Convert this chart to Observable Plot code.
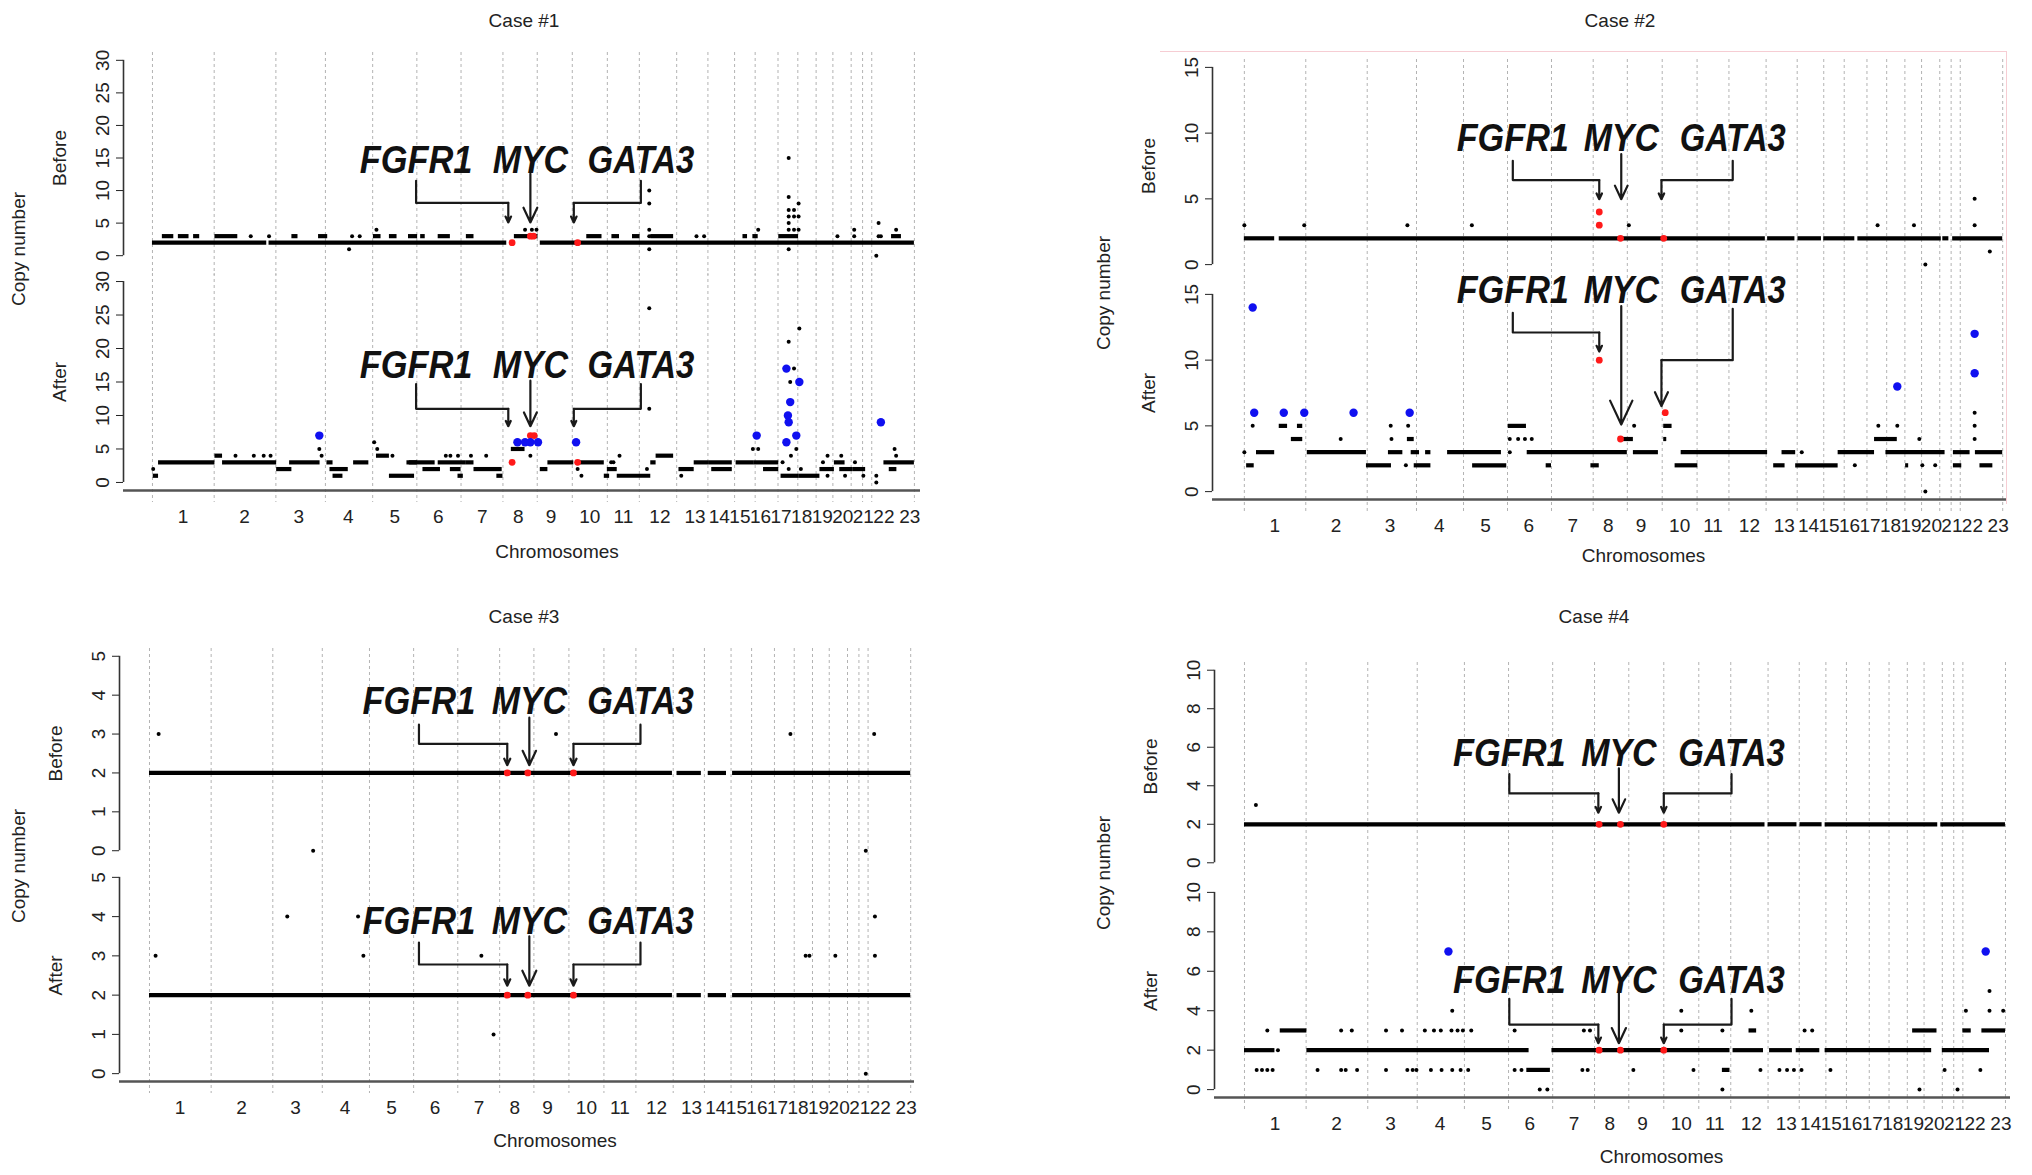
<!DOCTYPE html>
<html><head><meta charset="utf-8">
<script src="https://cdn.jsdelivr.net/npm/d3@7"></script>
<script src="https://cdn.jsdelivr.net/npm/@observablehq/plot@0.6"></script>
<style>
body{margin:0;background:#fff;}
#page{position:relative;width:2032px;height:1175px;overflow:hidden;font-family:'Liberation Sans',Arial,sans-serif;color:#222;}
.abs{position:absolute;}
.title{position:absolute;font-size:19px;transform:translate(-50%,-50%);white-space:nowrap;}
.ylab{position:absolute;font-size:19px;transform:translate(-50%,-50%) rotate(-90deg);white-space:nowrap;}
.pink{position:absolute;border-top:1.5px solid #f6cdd3;border-right:1.5px solid #f6cdd3;}
</style></head><body><div id="page"></div>
<script>
// ---------- shared genome axis (position along genome, 0..1000) ----------
const chromBounds = [0, 81, 162, 227, 289, 347, 405, 460, 505, 551, 597, 639, 688, 729, 764, 791, 821, 847, 871, 893, 917, 932, 944, 1000];
const chromLabelPos = [40, 121, 192, 257, 318, 375, 433, 480, 523, 574, 618, 666, 712, 744, 771, 798, 825, 852, 879, 906, 933, 960, 994];
const chromLabels = ["1","2","3","4","5","6","7","8","9","10","11","12","13","14","15","16","17","18","19","20","21","22","23"];
const caseTitles = ["Case #1", "Case #2", "Case #3", "Case #4"];
const genes = ["FGFR1", "MYC", "GATA3"];
const geneLabelWidth = [148, 99, 140];   // width of each gene word, in genome units

// ---------- Case 1 ----------
const c1YTicks = [0, 5, 10, 15, 20, 25, 30];
const c1BeforeRuns = [[0,150,2],[153,465,2],[509,1000,2],
 [13,28,3],[34,48,3],[54,62,3],[82,112,3],[183,191,3],[218,230,3],[290,300,3],[311,321,3],[336,348,3],[352,358,3],[375,391,3],[412,422,3],[475,506,3],[570,590,3],[603,613,3],[630,640,3],[654,684,3],[775,781,3],[788,795,3],[822,848,3],[970,983,3]];
const c1BeforePoints = [[129,3],[153,3],[262,3],[272,3],[714,3],[724,3],[899,3],[921,3],[953,3],[956,3],[294,4],[489,4],[498,4],[504,4],[795,4],[835,4],[842,4],[848,4],[921,4],[976,4],[258,1],[652,1],[835,1],[950,0],[652,10],[652,8],[652,4],[652,3],[835,15],[835,9],[835,7],[842,7],[835,6],[842,6],[848,8],[848,6],[835,5],[953,5]];
const c1BeforeRed = [[472,2],[496,3],[500,3],[558,2]];
const c1BeforeBlue = [];
const c1AfterRuns = [[1,8,1],[8,82,3],[82,92,4],[92,163,3],[163,183,2],[180,220,3],[229,237,3],[233,257,2],[237,250,1],[264,284,3],[294,311,4],[311,344,1],[334,348,3],[337,371,3],[355,378,2],[375,412,3],[391,405,2],[401,408,1],[412,422,3],[422,459,2],[452,460,1],[471,489,5],[509,519,2],[519,553,3],[560,593,3],[593,600,1],[597,610,2],[610,654,1],[654,661,3],[661,684,4],[691,711,2],[711,731,3],[731,761,3],[734,761,2],[766,790,3],[790,822,3],[802,822,2],[825,849,1],[849,876,1],[876,895,2],[895,909,3],[902,919,2],[919,936,2],[960,1000,3],[967,977,2]];
const c1AfterPoints = [[1,2],[109,4],[133,4],[146,4],[155,4],[219,5],[222,4],[291,6],[295,5],[315,4],[385,4],[391,4],[401,4],[418,4],[438,4],[496,4],[558,2],[563,1],[613,4],[602,3],[605,3],[652,26],[652,11],[649,2],[694,1],[788,5],[795,5],[835,21],[849,23],[842,17],[837,15],[845,5],[838,4],[827,3],[835,2],[851,2],[886,4],[880,3],[886,1],[904,4],[909,1],[922,3],[933,1],[950,0],[950,1],[976,4],[974,5]];
const c1AfterBlue = [[219,7],[479,6],[489,6],[496,6],[506,6],[556,6],[793,7],[832,17],[837,12],[834,10],[835,9],[832,6],[849,15],[845,7],[956,9]];
const c1AfterRed = [[472,3],[496,7],[501,7],[558,3]];
const c1LabelX = [346, 496, 641];
const c1TipX = [467, 496, 553];
const c1BeforeLabelY = 14.6;
const c1BeforeArrowY = [[11.5,8.1,5.1],[12.6,12.6,5.1],[11.5,8.1,5.1]];
const c1AfterLabelY = 17.4;
const c1AfterArrowY = [[14.7,11.0,8.4],[15.2,15.2,8.4],[14.7,11.0,8.4]];

// ---------- Case 2 ----------
const c2YTicks = [0, 5, 10, 15];
const c2BeforeRuns = [[0,40,2],[46,687,2],[690,726,2],[730,761,2],[764,805,2],[809,919,2],[921,929,2],[934,1000,2]];
const c2BeforePoints = [[0,3],[79,3],[215,3],[300,3],[507,3],[835,3],[883,3],[963,3],[963,5],[898,0],[983,1]];
const c2BeforeRed = [[468,4],[468,3],[496,2],[553,2]];
const c2BeforeBlue = [];
const c2AfterRuns = [[16,40,3],[83,161,3],[190,209,3],[220,231,3],[239,246,3],[268,339,3],[373,505,3],[513,546,3],[576,690,3],[709,727,3],[783,831,3],[846,924,3],[935,957,3],[964,1000,3],
 [3,13,2],[161,194,2],[224,246,2],[301,346,2],[398,405,2],[457,468,2],[568,598,2],[698,713,2],[727,783,2],[872,876,2],[935,946,2],[970,987,2],
 [62,77,4],[215,224,4],[498,513,4],[553,557,4],[831,861,4],
 [46,57,5],[70,77,5],[348,372,5],[553,564,5]];
const c2AfterPoints = [[0,3],[350,3],[735,3],[11,5],[127,4],[194,4],[193,5],[216,5],[213,2],[350,4],[361,4],[370,4],[379,4],[514,5],[836,5],[861,5],[890,4],[805,2],[894,2],[911,2],[963,4],[963,5],[963,6],[898,0]];
const c2AfterBlue = [[11,14],[13,6],[52,6],[79,6],[144,6],[218,6],[861,8],[963,12],[963,9]];
const c2AfterRed = [[468,10],[496,4],[555,6]];
const c2LabelX = [354, 497, 644];
const c2TipX = [468, 497, 550];
const c2BeforeLabelY = 9.6;
const c2BeforeArrowY = [[7.9,6.43,4.97],[8.4,8.4,4.97],[7.9,6.43,4.97]];
const c2AfterLabelY = 15.3;
const c2AfterArrowY = [[13.6,12.1,10.65],[14.1,14.1,5.1],[13.9,10.0,6.5]];

// ---------- Case 3 ----------
const c3YTicks = [0, 1, 2, 3, 4, 5];
const c3BeforeRuns = [[0,687,2],[693,725,2],[734,758,2],[766,1000,2]];
const c3BeforePoints = [[12,3],[534,3],[842,3],[952,3],[215,0],[941,0]];
const c3BeforeRed = [[470,2],[497,2],[557,2]];
const c3BeforeBlue = [];
const c3AfterRuns = [[0,687,2],[693,725,2],[734,758,2],[766,1000,2]];
const c3AfterPoints = [[181,4],[274,4],[953,4],[8,3],[281,3],[436,3],[862,3],[867,3],[901,3],[953,3],[452,1],[941,0]];
const c3AfterRed = [[470,2],[497,2],[557,2]];
const c3AfterBlue = [];
const c3LabelX = [354, 499, 645];
const c3TipX = [470, 499, 557];
const c3BeforeLabelY = 3.83;
const c3BeforeArrowY = [[3.24,2.75,2.2],[3.42,3.42,2.2],[3.24,2.75,2.2]];
const c3AfterLabelY = 3.87;
const c3AfterArrowY = [[3.34,2.78,2.24],[3.5,3.5,2.24],[3.34,2.78,2.24]];

// ---------- Case 4 ----------
const c4YTicks = [0, 2, 4, 6, 8, 10];
const c4BeforeRuns = [[0,684,2],[688,726,2],[730,759,2],[763,911,2],[915,1000,2]];
const c4BeforePoints = [[15,3]];
const c4BeforeRed = [[466,2],[494,2],[551,2]];
const c4BeforeBlue = [];
const c4AfterRuns = [[0,40,2],[82,374,2],[404,638,2],[642,682,2],[690,720,2],[725,756,2],[763,903,2],[917,979,2],
 [47,82,3],[663,673,3],[878,910,3],[944,955,3],[969,1000,3],[371,402,1],[628,638,1]];
const c4AfterPoints = [[30,3],[127,3],[141,3],[186,3],[207,3],[237,3],[249,3],[258,3],[272,3],[280,3],[287,3],[298,3],[355,3],[446,3],[454,3],[574,3],[628,3],[736,3],[746,3],
 [273,4],[574,4],[666,4],[948,4],[979,4],[997,4],[979,5],
 [16,1],[23,1],[30,1],[37,1],[96,1],[127,1],[133,1],[148,1],[186,1],[214,1],[221,1],[226,1],[245,1],[259,1],[273,1],[284,1],[294,1],[355,1],[364,1],[444,1],[451,1],[511,1],[590,1],[678,1],[703,1],[713,1],[722,1],[732,1],[770,1],[920,1],[967,1],
 [388,0],[398,0],[628,0],[887,0],[937,0],[44,2]];
const c4AfterBlue = [[268,7],[974,7]];
const c4AfterRed = [[466,2],[494,2],[551,2]];
const c4LabelX = [348, 492, 640];
const c4TipX = [465, 492, 551];
const c4BeforeLabelY = 5.7;
const c4BeforeArrowY = [[4.6,3.6,2.6],[4.9,4.9,2.6],[4.6,3.6,2.6]];
const c4AfterLabelY = 5.55;
const c4AfterArrowY = [[4.6,3.3,2.35],[4.9,4.9,2.35],[4.6,3.3,2.35]];

// ---------- drawing ----------
const FONT = "'Liberation Sans', Arial, Helvetica, sans-serif";
const page = document.getElementById("page");

function addDiv(cls, text, x, y) {
  const d = document.createElement("div");
  d.className = cls; d.textContent = text;
  d.style.left = x + "px"; d.style.top = y + "px";
  page.appendChild(d);
}

function panel(p) {
  const lines = [], heads = [];
  genes.forEach((g, i) => {
    const [y0, yE, y1] = p.arrowY[i];
    if (yE !== y0) {
      lines.push({g, x: p.labelX[i], y: y0});
      lines.push({g, x: p.labelX[i], y: yE});
      lines.push({g, x: p.tipX[i], y: yE});
    }
    heads.push({x1: p.tipX[i], y1: yE, x2: p.tipX[i], y2: y1});
  });
  const labels = genes.map((g, i) => ({g, x: p.labelX[i], y: p.labelY}));
  const yMax = p.yTicks[p.yTicks.length - 1];
  const marks = [
    Plot.ruleX(chromBounds, {stroke: "#b3b3b3", strokeDasharray: "3,3", strokeWidth: 1, insetBottom: -12}),
    Plot.ruleX([{x: p.xDomain[0], y1: 0, y2: yMax}], {x: "x", y1: "y1", y2: "y2", stroke: "#333", strokeWidth: 1.6}),
    Plot.ruleY(p.runs, {x1: d => d[0], x2: d => d[1], y: d => d[2], stroke: "#000", strokeWidth: 4.2}),
    Plot.dot(p.points, {x: d => d[0], y: d => d[1], r: 2, fill: "#000", stroke: "none"}),
    Plot.dot(p.red, {x: d => d[0], y: d => d[1], r: 3.4, fill: "#ff1a1a", stroke: "none"}),
    Plot.dot(p.blue, {x: d => d[0], y: d => d[1], r: 4.2, fill: "#1010f0", stroke: "none"}),
    Plot.line(lines, {x: "x", y: "y", z: "g", stroke: "#1a1a1a", strokeWidth: 2.2}),
    Plot.arrow(heads, {x1: "x1", y1: "y1", x2: "x2", y2: "y2", stroke: "#1a1a1a", strokeWidth: 2.2, headLength: 18, headAngle: 50}),
    Plot.text(labels, {x: "x", y: "y", text: "g", fontSize: 39, fontWeight: "bold", fontStyle: "italic", fill: "#111", fontFamily: FONT}),
    Plot.text([p.after ? "After" : "Before"], {frameAnchor: "left", textAnchor: "middle", lineAnchor: "middle", dx: -64, rotate: -90, fontSize: 19, fill: "#222"})
  ];
  if (p.after) {
    marks.push(Plot.ruleY([p.yDomain[0]], {stroke: "#555", strokeWidth: 2.6}));
    marks.push(Plot.text(["Chromosomes"], {frameAnchor: "bottom", textAnchor: "middle", lineAnchor: "middle", dx: p.chromDx, dy: p.chromDy, fontSize: 19, fill: "#222"}));
  }
  const svg = Plot.plot({
    width: p.width, height: p.height,
    marginLeft: p.ml, marginRight: p.mr, marginTop: p.mt, marginBottom: p.mb,
    style: {fontFamily: FONT, fontSize: "19px", color: "#222", overflow: "visible", background: "transparent"},
    x: {domain: p.xDomain, axis: p.after ? "bottom" : null, ticks: chromLabelPos,
        tickFormat: d => chromLabels[chromLabelPos.indexOf(d)], tickSize: 0, tickPadding: 19, label: null},
    y: {domain: p.yDomain, ticks: p.yTicks, tickFormat: d => String(d), tickSize: 7, tickPadding: 8, tickRotate: -90, label: null},
    marks
  });
  // squeeze the gene words to the widths
  const xs = svg.scale("x");
  svg.querySelectorAll("text").forEach(t => {
    const i = genes.indexOf(t.textContent.trim());
    if (i < 0) return;
    const w = Math.abs(xs.apply(p.labelX[i] + geneLabelWidth[i] / 2) - xs.apply(p.labelX[i] - geneLabelWidth[i] / 2));
    t.setAttribute("textLength", w.toFixed(1));
    t.setAttribute("lengthAdjust", "spacingAndGlyphs");
  });
  const wrap = document.createElement("div");
  wrap.className = "abs";
  wrap.style.left = p.left + "px"; wrap.style.top = p.top + "px";
  wrap.appendChild(svg);
  page.appendChild(wrap);
}

// Case 1
panel({left: 0, top: 40, width: 960, height: 227, ml: 123, mr: 40, mt: 12, mb: 4, xDomain: [-38, 1008], yDomain: [-1.2, 31.2], yTicks: c1YTicks,
  runs: c1BeforeRuns, points: c1BeforePoints, red: c1BeforeRed, blue: c1BeforeBlue, labelX: c1LabelX, tipX: c1TipX, labelY: c1BeforeLabelY, arrowY: c1BeforeArrowY});
panel({left: 0, top: 265, width: 960, height: 310, ml: 123, mr: 40, mt: 8, mb: 85, xDomain: [-38, 1008], yDomain: [-1.2, 31.2], yTicks: c1YTicks, after: true, chromDx: 35, chromDy: 61,
  runs: c1AfterRuns, points: c1AfterPoints, red: c1AfterRed, blue: c1AfterBlue, labelX: c1LabelX, tipX: c1TipX, labelY: c1AfterLabelY, arrowY: c1AfterArrowY});
// Case 2
panel({left: 1040, top: 45, width: 992, height: 231, ml: 172, mr: 26, mt: 14, mb: 4, xDomain: [-42, 1005], yDomain: [-0.6, 15.6], yTicks: c2YTicks,
  runs: c2BeforeRuns, points: c2BeforePoints, red: c2BeforeRed, blue: c2BeforeBlue, labelX: c2LabelX, tipX: c2TipX, labelY: c2BeforeLabelY, arrowY: c2BeforeArrowY});
panel({left: 1040, top: 278, width: 992, height: 302, ml: 172, mr: 26, mt: 8, mb: 81, xDomain: [-42, 1005], yDomain: [-0.6, 15.6], yTicks: c2YTicks, after: true, chromDx: 34, chromDy: 56,
  runs: c2AfterRuns, points: c2AfterPoints, red: c2AfterRed, blue: c2AfterBlue, labelX: c2LabelX, tipX: c2TipX, labelY: c2AfterLabelY, arrowY: c2AfterArrowY});
// Case 3
panel({left: 0, top: 636, width: 960, height: 226, ml: 119, mr: 46, mt: 12, mb: 4, xDomain: [-39.4, 1005], yDomain: [-0.2, 5.2], yTicks: c3YTicks,
  runs: c3BeforeRuns, points: c3BeforePoints, red: c3BeforeRed, blue: c3BeforeBlue, labelX: c3LabelX, tipX: c3TipX, labelY: c3BeforeLabelY, arrowY: c3BeforeArrowY});
panel({left: 0, top: 861, width: 960, height: 310, ml: 119, mr: 46, mt: 8, mb: 90, xDomain: [-39.4, 1005], yDomain: [-0.2, 5.2], yTicks: c3YTicks, after: true, chromDx: 38, chromDy: 59,
  runs: c3AfterRuns, points: c3AfterPoints, red: c3AfterRed, blue: c3AfterBlue, labelX: c3LabelX, tipX: c3TipX, labelY: c3AfterLabelY, arrowY: c3AfterArrowY});
// Case 4
panel({left: 1040, top: 650, width: 992, height: 224, ml: 174, mr: 22, mt: 12, mb: 4, xDomain: [-39.4, 1006.6], yDomain: [-0.4, 10.4], yTicks: c4YTicks,
  runs: c4BeforeRuns, points: c4BeforePoints, red: c4BeforeRed, blue: c4BeforeBlue, labelX: c4LabelX, tipX: c4TipX, labelY: c4BeforeLabelY, arrowY: c4BeforeArrowY});
panel({left: 1040, top: 876, width: 992, height: 299, ml: 174, mr: 22, mt: 8, mb: 78, xDomain: [-39.4, 1006.6], yDomain: [-0.4, 10.4], yTicks: c4YTicks, after: true, chromDx: 49, chromDy: 59,
  runs: c4AfterRuns, points: c4AfterPoints, red: c4AfterRed, blue: c4AfterBlue, labelX: c4LabelX, tipX: c4TipX, labelY: c4AfterLabelY, arrowY: c4AfterArrowY});

// titles & shared y labels
addDiv("title", caseTitles[0], 524, 21);
addDiv("title", caseTitles[1], 1620, 21);
addDiv("title", caseTitles[2], 524, 617);
addDiv("title", caseTitles[3], 1594, 617);
addDiv("ylab", "Copy number", 19, 249);
addDiv("ylab", "Copy number", 1104, 293);
addDiv("ylab", "Copy number", 19, 866);
addDiv("ylab", "Copy number", 1104, 873);
const pk = document.createElement("div");
pk.className = "pink";
pk.style.left = "1160px"; pk.style.top = "51px"; pk.style.width = "846px"; pk.style.height = "452px";
page.appendChild(pk);
</script></body></html>
